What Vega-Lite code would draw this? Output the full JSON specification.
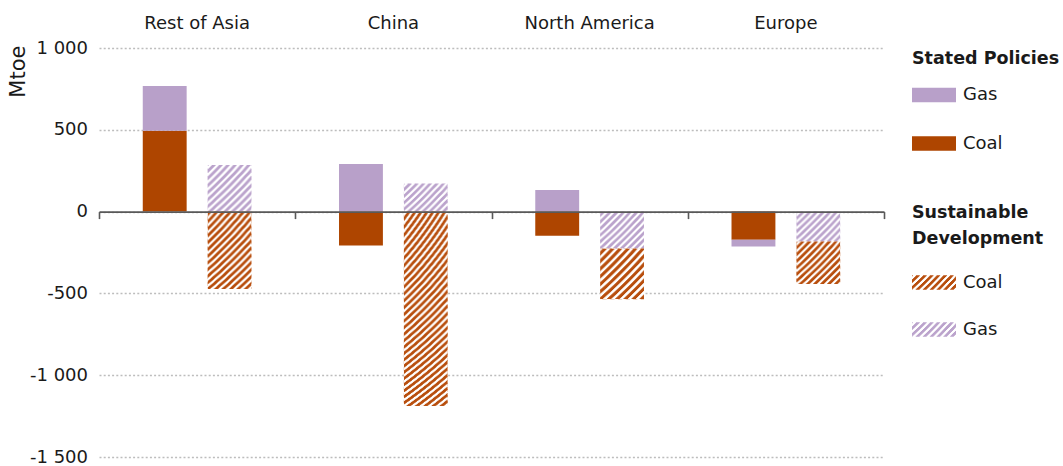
{
  "$schema": "https://vega.github.io/schema/vega-lite/v6.json",
  "width": 785,
  "height": 409,
  "autosize": {"type": "none"},
  "padding": {"left": 99, "top": 48, "right": 179, "bottom": 9},
  "background": "white",
  "data": {
    "values": [
      {"region": "Rest of Asia", "scenario": "SP", "fuel": "Coal", "value": 494},
      {"region": "Rest of Asia", "scenario": "SP", "fuel": "Gas", "value": 274},
      {"region": "Rest of Asia", "scenario": "SD", "fuel": "Gas", "value": 285},
      {"region": "Rest of Asia", "scenario": "SD", "fuel": "Coal", "value": -473},
      {"region": "China", "scenario": "SP", "fuel": "Coal", "value": -207},
      {"region": "China", "scenario": "SP", "fuel": "Gas", "value": 291},
      {"region": "China", "scenario": "SD", "fuel": "Gas", "value": 172},
      {"region": "China", "scenario": "SD", "fuel": "Coal", "value": -1188},
      {"region": "North America", "scenario": "SP", "fuel": "Coal", "value": -148},
      {"region": "North America", "scenario": "SP", "fuel": "Gas", "value": 132},
      {"region": "North America", "scenario": "SD", "fuel": "Gas", "value": -225},
      {"region": "North America", "scenario": "SD", "fuel": "Coal", "value": -310},
      {"region": "Europe", "scenario": "SP", "fuel": "Coal", "value": -172},
      {"region": "Europe", "scenario": "SP", "fuel": "Gas", "value": -41},
      {"region": "Europe", "scenario": "SD", "fuel": "Gas", "value": -182},
      {"region": "Europe", "scenario": "SD", "fuel": "Coal", "value": -261}
    ]
  },
  "layer": [
    {
      "transform": [{"filter": "datum.scenario === 'SP'"}],
      "mark": {"type": "bar"},
      "encoding": {
        "x": {
          "field": "region", "type": "nominal",
          "sort": ["Rest of Asia", "China", "North America", "Europe"],
          "scale": {"paddingInner": 0, "paddingOuter": 0},
          "axis": {
            "orient": "top", "title": null, "labelAngle": 0, "ticks": false, "tickSize": 0,
            "domain": false, "grid": false, "labelPadding": 20, "labelBaseline": "alphabetic",
            "labelFontSize": 18, "labelColor": "#1a1a1a"
          }
        },
        "xOffset": {
          "field": "scenario", "type": "nominal",
          "scale": {"domain": ["SP", "SD"], "paddingInner": 0.323, "paddingOuter": 0.675}
        },
        "y": {
          "field": "value", "type": "quantitative", "stack": "zero",
          "scale": {"domain": [-1500, 1000], "nice": false, "zero": false},
          "axis": {
            "title": "Mtoe", "values": [-1500, -1000, -500, 0, 500, 1000],
            "domain": false, "ticks": false, "tickSize": 0, "labelPadding": 11.5,
            "labelFontSize": 18, "labelColor": "#1a1a1a",
            "labelExpr": "(datum.value < 0 ? '-' : '') + replace(format(abs(datum.value), ','), ',', ' ')",
            "grid": true, "gridColor": "#bdbdbd", "gridDash": [2, 2.2], "gridWidth": 1.5,
            "titleFontSize": 21, "titleFontWeight": "normal", "titleColor": "#1a1a1a",
            "titleAngle": 270, "titleAlign": "right", "titleBaseline": "middle",
            "titleX": -80.5, "titleY": -3
          }
        },
        "fill": {
          "field": "fuel", "type": "nominal",
          "scale": {"domain": ["Gas", "Coal"], "range": ["#b8a0c9", "#ae4500"]},
          "legend": {
            "title": "Stated Policies", "orient": "none", "direction": "vertical",
            "legendX": 813, "legendY": 1.5, "padding": 0,
            "symbolType": "M-1,-0.33H1V0.33H-1Z", "symbolSize": 1936, "symbolStrokeWidth": 0,
            "labelOffset": 7, "rowPadding": 17.5, "titlePadding": 6
          }
        },
        "order": {"field": "fuel", "sort": "ascending"}
      }
    },
    {
      "transform": [{"filter": "datum.scenario === 'SD'"}],
      "mark": {"type": "bar"},
      "encoding": {
        "x": {
          "field": "region", "type": "nominal",
          "sort": ["Rest of Asia", "China", "North America", "Europe"],
          "scale": {"paddingInner": 0, "paddingOuter": 0},
          "axis": {
            "orient": "bottom", "offset": -245.4, "title": null, "labels": false,
            "domain": true, "domainColor": "#595959", "domainWidth": 1.6,
            "ticks": true, "tickBand": "extent", "tickSize": 7, "tickColor": "#595959", "tickWidth": 1.6,
            "grid": false, "zindex": 1
          }
        },
        "xOffset": {
          "field": "scenario", "type": "nominal",
          "scale": {"domain": ["SP", "SD"], "paddingInner": 0.323, "paddingOuter": 0.675}
        },
        "y": {
          "field": "value", "type": "quantitative", "stack": "zero",
          "scale": {"domain": [-1500, 1000], "nice": false, "zero": false}
        },
        "fill": {
          "field": "fuel", "type": "nominal",
          "scale": {"domain": ["Coal", "Gas"], "range": ["#b84e0d", "#bba3cc"]},
          "legend": null,
          "condition": [
            {
              "test": "datum.fuel === 'Coal' && datum.region === 'China'",
              "value": {"gradient": "radial", "x1": -0.969, "y1": -0.969, "r1": 0, "x2": -0.969, "y2": -0.969, "r2": 2.551, "stops": [
                {"offset":0.65,"color":"#b84e0d"},{"offset":0.6545,"color":"#b84e0d"},{"offset":0.6555,"color":"#fff"},{"offset":0.659,"color":"#fff"},
                {"offset":0.66,"color":"#b84e0d"},{"offset":0.6645,"color":"#b84e0d"},{"offset":0.6655,"color":"#fff"},{"offset":0.669,"color":"#fff"},
                {"offset":0.67,"color":"#b84e0d"},{"offset":0.6745,"color":"#b84e0d"},{"offset":0.6755,"color":"#fff"},{"offset":0.679,"color":"#fff"},
                {"offset":0.68,"color":"#b84e0d"},{"offset":0.6845,"color":"#b84e0d"},{"offset":0.6855,"color":"#fff"},{"offset":0.689,"color":"#fff"},
                {"offset":0.69,"color":"#b84e0d"},{"offset":0.6945,"color":"#b84e0d"},{"offset":0.6955,"color":"#fff"},{"offset":0.699,"color":"#fff"},
                {"offset":0.70,"color":"#b84e0d"},{"offset":0.7045,"color":"#b84e0d"},{"offset":0.7055,"color":"#fff"},{"offset":0.709,"color":"#fff"},
                {"offset":0.71,"color":"#b84e0d"},{"offset":0.7145,"color":"#b84e0d"},{"offset":0.7155,"color":"#fff"},{"offset":0.719,"color":"#fff"},
                {"offset":0.72,"color":"#b84e0d"},{"offset":0.7245,"color":"#b84e0d"},{"offset":0.7255,"color":"#fff"},{"offset":0.729,"color":"#fff"},
                {"offset":0.73,"color":"#b84e0d"},{"offset":0.7345,"color":"#b84e0d"},{"offset":0.7355,"color":"#fff"},{"offset":0.739,"color":"#fff"},
                {"offset":0.74,"color":"#b84e0d"},{"offset":0.7445,"color":"#b84e0d"},{"offset":0.7455,"color":"#fff"},{"offset":0.749,"color":"#fff"},
                {"offset":0.75,"color":"#b84e0d"},{"offset":0.7545,"color":"#b84e0d"},{"offset":0.7555,"color":"#fff"},{"offset":0.759,"color":"#fff"},
                {"offset":0.76,"color":"#b84e0d"},{"offset":0.7645,"color":"#b84e0d"},{"offset":0.7655,"color":"#fff"},{"offset":0.769,"color":"#fff"},
                {"offset":0.77,"color":"#b84e0d"},{"offset":0.7745,"color":"#b84e0d"},{"offset":0.7755,"color":"#fff"},{"offset":0.779,"color":"#fff"},
                {"offset":0.78,"color":"#b84e0d"},{"offset":0.7845,"color":"#b84e0d"},{"offset":0.7855,"color":"#fff"},{"offset":0.789,"color":"#fff"},
                {"offset":0.79,"color":"#b84e0d"},{"offset":0.7945,"color":"#b84e0d"},{"offset":0.7955,"color":"#fff"},{"offset":0.799,"color":"#fff"},
                {"offset":0.80,"color":"#b84e0d"},{"offset":0.8045,"color":"#b84e0d"},{"offset":0.8055,"color":"#fff"},{"offset":0.809,"color":"#fff"},
                {"offset":0.81,"color":"#b84e0d"},{"offset":0.8145,"color":"#b84e0d"},{"offset":0.8155,"color":"#fff"},{"offset":0.819,"color":"#fff"},
                {"offset":0.82,"color":"#b84e0d"},{"offset":0.8245,"color":"#b84e0d"},{"offset":0.8255,"color":"#fff"},{"offset":0.829,"color":"#fff"},
                {"offset":0.83,"color":"#b84e0d"},{"offset":0.8345,"color":"#b84e0d"},{"offset":0.8355,"color":"#fff"},{"offset":0.839,"color":"#fff"},
                {"offset":0.84,"color":"#b84e0d"},{"offset":0.8445,"color":"#b84e0d"},{"offset":0.8455,"color":"#fff"},{"offset":0.849,"color":"#fff"},
                {"offset":0.85,"color":"#b84e0d"},{"offset":0.8545,"color":"#b84e0d"},{"offset":0.8555,"color":"#fff"},{"offset":0.859,"color":"#fff"},
                {"offset":0.86,"color":"#b84e0d"},{"offset":0.8645,"color":"#b84e0d"},{"offset":0.8655,"color":"#fff"},{"offset":0.869,"color":"#fff"},
                {"offset":0.87,"color":"#b84e0d"},{"offset":0.8745,"color":"#b84e0d"},{"offset":0.8755,"color":"#fff"},{"offset":0.879,"color":"#fff"},
                {"offset":0.88,"color":"#b84e0d"},{"offset":0.8845,"color":"#b84e0d"},{"offset":0.8855,"color":"#fff"},{"offset":0.889,"color":"#fff"},
                {"offset":0.89,"color":"#b84e0d"},{"offset":0.8945,"color":"#b84e0d"},{"offset":0.8955,"color":"#fff"},{"offset":0.899,"color":"#fff"},
                {"offset":0.90,"color":"#b84e0d"},{"offset":0.9045,"color":"#b84e0d"},{"offset":0.9055,"color":"#fff"},{"offset":0.909,"color":"#fff"},
                {"offset":0.91,"color":"#b84e0d"},{"offset":0.9145,"color":"#b84e0d"},{"offset":0.9155,"color":"#fff"},{"offset":0.919,"color":"#fff"},
                {"offset":0.92,"color":"#b84e0d"},{"offset":0.9245,"color":"#b84e0d"},{"offset":0.9255,"color":"#fff"},{"offset":0.929,"color":"#fff"},
                {"offset":0.93,"color":"#b84e0d"},{"offset":0.9345,"color":"#b84e0d"},{"offset":0.9355,"color":"#fff"},{"offset":0.939,"color":"#fff"},
                {"offset":0.94,"color":"#b84e0d"},{"offset":0.9445,"color":"#b84e0d"},{"offset":0.9455,"color":"#fff"},{"offset":0.949,"color":"#fff"},
                {"offset":0.95,"color":"#b84e0d"},{"offset":0.9545,"color":"#b84e0d"},{"offset":0.9555,"color":"#fff"},{"offset":0.959,"color":"#fff"},
                {"offset":0.96,"color":"#b84e0d"},{"offset":0.9645,"color":"#b84e0d"},{"offset":0.9655,"color":"#fff"},{"offset":0.969,"color":"#fff"},
                {"offset":0.97,"color":"#b84e0d"},{"offset":0.9745,"color":"#b84e0d"},{"offset":0.9755,"color":"#fff"},{"offset":0.979,"color":"#fff"},
                {"offset":0.98,"color":"#b84e0d"},{"offset":0.9845,"color":"#b84e0d"},{"offset":0.9855,"color":"#fff"},{"offset":0.989,"color":"#fff"},
                {"offset":0.99,"color":"#b84e0d"},{"offset":0.9945,"color":"#b84e0d"},{"offset":0.9955,"color":"#fff"},{"offset":0.999,"color":"#fff"},
                {"offset":1,"color":"#b84e0d"}
              ]}
            },
            {
              "test": "datum.fuel === 'Coal' && datum.region === 'Rest of Asia'",
              "value": {"gradient": "radial", "x1": -3.61, "y1": -3.61, "r1": 0, "x2": -3.61, "y2": -3.61, "r2": 6.43, "stops": [
                {"offset":0.81,"color":"#b84e0d"},{"offset":0.8145,"color":"#b84e0d"},{"offset":0.8155,"color":"#fff"},{"offset":0.819,"color":"#fff"},
                {"offset":0.82,"color":"#b84e0d"},{"offset":0.8245,"color":"#b84e0d"},{"offset":0.8255,"color":"#fff"},{"offset":0.829,"color":"#fff"},
                {"offset":0.83,"color":"#b84e0d"},{"offset":0.8345,"color":"#b84e0d"},{"offset":0.8355,"color":"#fff"},{"offset":0.839,"color":"#fff"},
                {"offset":0.84,"color":"#b84e0d"},{"offset":0.8445,"color":"#b84e0d"},{"offset":0.8455,"color":"#fff"},{"offset":0.849,"color":"#fff"},
                {"offset":0.85,"color":"#b84e0d"},{"offset":0.8545,"color":"#b84e0d"},{"offset":0.8555,"color":"#fff"},{"offset":0.859,"color":"#fff"},
                {"offset":0.86,"color":"#b84e0d"},{"offset":0.8645,"color":"#b84e0d"},{"offset":0.8655,"color":"#fff"},{"offset":0.869,"color":"#fff"},
                {"offset":0.87,"color":"#b84e0d"},{"offset":0.8745,"color":"#b84e0d"},{"offset":0.8755,"color":"#fff"},{"offset":0.879,"color":"#fff"},
                {"offset":0.88,"color":"#b84e0d"},{"offset":0.8845,"color":"#b84e0d"},{"offset":0.8855,"color":"#fff"},{"offset":0.889,"color":"#fff"},
                {"offset":0.89,"color":"#b84e0d"},{"offset":0.8945,"color":"#b84e0d"},{"offset":0.8955,"color":"#fff"},{"offset":0.899,"color":"#fff"},
                {"offset":0.90,"color":"#b84e0d"},{"offset":0.9045,"color":"#b84e0d"},{"offset":0.9055,"color":"#fff"},{"offset":0.909,"color":"#fff"},
                {"offset":0.91,"color":"#b84e0d"},{"offset":0.9145,"color":"#b84e0d"},{"offset":0.9155,"color":"#fff"},{"offset":0.919,"color":"#fff"},
                {"offset":0.92,"color":"#b84e0d"},{"offset":0.9245,"color":"#b84e0d"},{"offset":0.9255,"color":"#fff"},{"offset":0.929,"color":"#fff"},
                {"offset":0.93,"color":"#b84e0d"},{"offset":0.9345,"color":"#b84e0d"},{"offset":0.9355,"color":"#fff"},{"offset":0.939,"color":"#fff"},
                {"offset":0.94,"color":"#b84e0d"},{"offset":0.9445,"color":"#b84e0d"},{"offset":0.9455,"color":"#fff"},{"offset":0.949,"color":"#fff"},
                {"offset":0.95,"color":"#b84e0d"},{"offset":0.9545,"color":"#b84e0d"},{"offset":0.9555,"color":"#fff"},{"offset":0.959,"color":"#fff"},
                {"offset":0.96,"color":"#b84e0d"},{"offset":0.9645,"color":"#b84e0d"},{"offset":0.9655,"color":"#fff"},{"offset":0.969,"color":"#fff"},
                {"offset":0.97,"color":"#b84e0d"},{"offset":0.9745,"color":"#b84e0d"},{"offset":0.9755,"color":"#fff"},{"offset":0.979,"color":"#fff"},
                {"offset":0.98,"color":"#b84e0d"},{"offset":0.9845,"color":"#b84e0d"},{"offset":0.9855,"color":"#fff"},{"offset":0.989,"color":"#fff"},
                {"offset":0.99,"color":"#b84e0d"},{"offset":0.9945,"color":"#b84e0d"},{"offset":0.9955,"color":"#fff"},{"offset":0.999,"color":"#fff"},
                {"offset":1,"color":"#b84e0d"}
              ]}
            },
            {
              "test": "datum.fuel === 'Coal'",
              "value": {"gradient": "radial", "x1": -6.7, "y1": -6.7, "r1": 0, "x2": -6.7, "y2": -6.7, "r2": 11, "stops": [
                {"offset":0.86,"color":"#b84e0d"},{"offset":0.8645,"color":"#b84e0d"},{"offset":0.8655,"color":"#fff"},{"offset":0.869,"color":"#fff"},
                {"offset":0.87,"color":"#b84e0d"},{"offset":0.8745,"color":"#b84e0d"},{"offset":0.8755,"color":"#fff"},{"offset":0.879,"color":"#fff"},
                {"offset":0.88,"color":"#b84e0d"},{"offset":0.8845,"color":"#b84e0d"},{"offset":0.8855,"color":"#fff"},{"offset":0.889,"color":"#fff"},
                {"offset":0.89,"color":"#b84e0d"},{"offset":0.8945,"color":"#b84e0d"},{"offset":0.8955,"color":"#fff"},{"offset":0.899,"color":"#fff"},
                {"offset":0.90,"color":"#b84e0d"},{"offset":0.9045,"color":"#b84e0d"},{"offset":0.9055,"color":"#fff"},{"offset":0.909,"color":"#fff"},
                {"offset":0.91,"color":"#b84e0d"},{"offset":0.9145,"color":"#b84e0d"},{"offset":0.9155,"color":"#fff"},{"offset":0.919,"color":"#fff"},
                {"offset":0.92,"color":"#b84e0d"},{"offset":0.9245,"color":"#b84e0d"},{"offset":0.9255,"color":"#fff"},{"offset":0.929,"color":"#fff"},
                {"offset":0.93,"color":"#b84e0d"},{"offset":0.9345,"color":"#b84e0d"},{"offset":0.9355,"color":"#fff"},{"offset":0.939,"color":"#fff"},
                {"offset":0.94,"color":"#b84e0d"},{"offset":0.9445,"color":"#b84e0d"},{"offset":0.9455,"color":"#fff"},{"offset":0.949,"color":"#fff"},
                {"offset":0.95,"color":"#b84e0d"},{"offset":0.9545,"color":"#b84e0d"},{"offset":0.9555,"color":"#fff"},{"offset":0.959,"color":"#fff"},
                {"offset":0.96,"color":"#b84e0d"},{"offset":0.9645,"color":"#b84e0d"},{"offset":0.9655,"color":"#fff"},{"offset":0.969,"color":"#fff"},
                {"offset":0.97,"color":"#b84e0d"},{"offset":0.9745,"color":"#b84e0d"},{"offset":0.9755,"color":"#fff"},{"offset":0.979,"color":"#fff"},
                {"offset":0.98,"color":"#b84e0d"},{"offset":0.9845,"color":"#b84e0d"},{"offset":0.9855,"color":"#fff"},{"offset":0.989,"color":"#fff"},
                {"offset":0.99,"color":"#b84e0d"},{"offset":0.9945,"color":"#b84e0d"},{"offset":0.9955,"color":"#fff"},{"offset":0.999,"color":"#fff"},
                {"offset":1,"color":"#b84e0d"}
              ]}
            },
            {
              "test": "datum.fuel === 'Gas'",
              "value": {"gradient": "radial", "x1": -6.7, "y1": -6.7, "r1": 0, "x2": -6.7, "y2": -6.7, "r2": 11, "stops": [
                {"offset":0.86,"color":"#bba3cc"},{"offset":0.8645,"color":"#bba3cc"},{"offset":0.8655,"color":"#fff"},{"offset":0.869,"color":"#fff"},
                {"offset":0.87,"color":"#bba3cc"},{"offset":0.8745,"color":"#bba3cc"},{"offset":0.8755,"color":"#fff"},{"offset":0.879,"color":"#fff"},
                {"offset":0.88,"color":"#bba3cc"},{"offset":0.8845,"color":"#bba3cc"},{"offset":0.8855,"color":"#fff"},{"offset":0.889,"color":"#fff"},
                {"offset":0.89,"color":"#bba3cc"},{"offset":0.8945,"color":"#bba3cc"},{"offset":0.8955,"color":"#fff"},{"offset":0.899,"color":"#fff"},
                {"offset":0.90,"color":"#bba3cc"},{"offset":0.9045,"color":"#bba3cc"},{"offset":0.9055,"color":"#fff"},{"offset":0.909,"color":"#fff"},
                {"offset":0.91,"color":"#bba3cc"},{"offset":0.9145,"color":"#bba3cc"},{"offset":0.9155,"color":"#fff"},{"offset":0.919,"color":"#fff"},
                {"offset":0.92,"color":"#bba3cc"},{"offset":0.9245,"color":"#bba3cc"},{"offset":0.9255,"color":"#fff"},{"offset":0.929,"color":"#fff"},
                {"offset":0.93,"color":"#bba3cc"},{"offset":0.9345,"color":"#bba3cc"},{"offset":0.9355,"color":"#fff"},{"offset":0.939,"color":"#fff"},
                {"offset":0.94,"color":"#bba3cc"},{"offset":0.9445,"color":"#bba3cc"},{"offset":0.9455,"color":"#fff"},{"offset":0.949,"color":"#fff"},
                {"offset":0.95,"color":"#bba3cc"},{"offset":0.9545,"color":"#bba3cc"},{"offset":0.9555,"color":"#fff"},{"offset":0.959,"color":"#fff"},
                {"offset":0.96,"color":"#bba3cc"},{"offset":0.9645,"color":"#bba3cc"},{"offset":0.9655,"color":"#fff"},{"offset":0.969,"color":"#fff"},
                {"offset":0.97,"color":"#bba3cc"},{"offset":0.9745,"color":"#bba3cc"},{"offset":0.9755,"color":"#fff"},{"offset":0.979,"color":"#fff"},
                {"offset":0.98,"color":"#bba3cc"},{"offset":0.9845,"color":"#bba3cc"},{"offset":0.9855,"color":"#fff"},{"offset":0.989,"color":"#fff"},
                {"offset":0.99,"color":"#bba3cc"},{"offset":0.9945,"color":"#bba3cc"},{"offset":0.9955,"color":"#fff"},{"offset":0.999,"color":"#fff"},
                {"offset":1,"color":"#bba3cc"}
              ]}
            }
          ]
        },
        "order": {"field": "fuel", "sort": "descending"}
      }
    },
    {
      "transform": [{"filter": "datum.scenario === 'SD' && datum.fuel === 'Coal' && datum.region === 'Europe'"}],
      "mark": {
        "type": "bar",
        "fill": {"gradient": "radial", "x1": -6.7, "y1": -6.7, "r1": 0, "x2": -6.7, "y2": -6.7, "r2": 11, "stops": [
          {"offset":0.86,"color":"#b84e0d"},{"offset":0.8645,"color":"#b84e0d"},{"offset":0.8655,"color":"#fff"},{"offset":0.869,"color":"#fff"},
          {"offset":0.87,"color":"#b84e0d"},{"offset":0.8745,"color":"#b84e0d"},{"offset":0.8755,"color":"#fff"},{"offset":0.879,"color":"#fff"},
          {"offset":0.88,"color":"#b84e0d"},{"offset":0.8845,"color":"#b84e0d"},{"offset":0.8855,"color":"#fff"},{"offset":0.889,"color":"#fff"},
          {"offset":0.89,"color":"#b84e0d"},{"offset":0.8945,"color":"#b84e0d"},{"offset":0.8955,"color":"#fff"},{"offset":0.899,"color":"#fff"},
          {"offset":0.90,"color":"#b84e0d"},{"offset":0.9045,"color":"#b84e0d"},{"offset":0.9055,"color":"#fff"},{"offset":0.909,"color":"#fff"},
          {"offset":0.91,"color":"#b84e0d"},{"offset":0.9145,"color":"#b84e0d"},{"offset":0.9155,"color":"#fff"},{"offset":0.919,"color":"#fff"},
          {"offset":0.92,"color":"#b84e0d"},{"offset":0.9245,"color":"#b84e0d"},{"offset":0.9255,"color":"#fff"},{"offset":0.929,"color":"#fff"},
          {"offset":0.93,"color":"#b84e0d"},{"offset":0.9345,"color":"#b84e0d"},{"offset":0.9355,"color":"#fff"},{"offset":0.939,"color":"#fff"},
          {"offset":0.94,"color":"#b84e0d"},{"offset":0.9445,"color":"#b84e0d"},{"offset":0.9455,"color":"#fff"},{"offset":0.949,"color":"#fff"},
          {"offset":0.95,"color":"#b84e0d"},{"offset":0.9545,"color":"#b84e0d"},{"offset":0.9555,"color":"#fff"},{"offset":0.959,"color":"#fff"},
          {"offset":0.96,"color":"#b84e0d"},{"offset":0.9645,"color":"#b84e0d"},{"offset":0.9655,"color":"#fff"},{"offset":0.969,"color":"#fff"},
          {"offset":0.97,"color":"#b84e0d"},{"offset":0.9745,"color":"#b84e0d"},{"offset":0.9755,"color":"#fff"},{"offset":0.979,"color":"#fff"},
          {"offset":0.98,"color":"#b84e0d"},{"offset":0.9845,"color":"#b84e0d"},{"offset":0.9855,"color":"#fff"},{"offset":0.989,"color":"#fff"},
          {"offset":0.99,"color":"#b84e0d"},{"offset":0.9945,"color":"#b84e0d"},{"offset":0.9955,"color":"#fff"},{"offset":0.999,"color":"#fff"},
          {"offset":1,"color":"#b84e0d"}
        ]}
      },
      "encoding": {
        "x": {"field": "region", "type": "nominal", "sort": ["Rest of Asia", "China", "North America", "Europe"], "axis": null},
        "xOffset": {"field": "scenario", "type": "nominal", "scale": {"domain": ["SP", "SD"], "paddingInner": 0.323, "paddingOuter": 0.675}},
        "y": {"datum": 0, "type": "quantitative"},
        "y2": {"datum": 0},
        "opacity": {
          "field": "fuel", "type": "nominal",
          "scale": {"domain": ["Coal"], "range": [1]},
          "legend": {
            "title": ["Sustainable", "Development"], "orient": "none", "direction": "vertical",
            "legendX": 813, "legendY": 155.5, "padding": 0,
            "symbolType": "M-1,-0.33H1V0.33H-1Z", "symbolSize": 1936, "symbolStrokeWidth": 0,
            "labelOffset": 7, "titlePadding": 13.5, "titleLineHeight": 26
          }
        }
      }
    },
    {
      "transform": [{"filter": "datum.scenario === 'SD' && datum.fuel === 'Gas' && datum.region === 'Europe'"}],
      "mark": {
        "type": "bar",
        "fill": {"gradient": "radial", "x1": -6.7, "y1": -6.7, "r1": 0, "x2": -6.7, "y2": -6.7, "r2": 11, "stops": [
          {"offset":0.86,"color":"#bba3cc"},{"offset":0.8645,"color":"#bba3cc"},{"offset":0.8655,"color":"#fff"},{"offset":0.869,"color":"#fff"},
          {"offset":0.87,"color":"#bba3cc"},{"offset":0.8745,"color":"#bba3cc"},{"offset":0.8755,"color":"#fff"},{"offset":0.879,"color":"#fff"},
          {"offset":0.88,"color":"#bba3cc"},{"offset":0.8845,"color":"#bba3cc"},{"offset":0.8855,"color":"#fff"},{"offset":0.889,"color":"#fff"},
          {"offset":0.89,"color":"#bba3cc"},{"offset":0.8945,"color":"#bba3cc"},{"offset":0.8955,"color":"#fff"},{"offset":0.899,"color":"#fff"},
          {"offset":0.90,"color":"#bba3cc"},{"offset":0.9045,"color":"#bba3cc"},{"offset":0.9055,"color":"#fff"},{"offset":0.909,"color":"#fff"},
          {"offset":0.91,"color":"#bba3cc"},{"offset":0.9145,"color":"#bba3cc"},{"offset":0.9155,"color":"#fff"},{"offset":0.919,"color":"#fff"},
          {"offset":0.92,"color":"#bba3cc"},{"offset":0.9245,"color":"#bba3cc"},{"offset":0.9255,"color":"#fff"},{"offset":0.929,"color":"#fff"},
          {"offset":0.93,"color":"#bba3cc"},{"offset":0.9345,"color":"#bba3cc"},{"offset":0.9355,"color":"#fff"},{"offset":0.939,"color":"#fff"},
          {"offset":0.94,"color":"#bba3cc"},{"offset":0.9445,"color":"#bba3cc"},{"offset":0.9455,"color":"#fff"},{"offset":0.949,"color":"#fff"},
          {"offset":0.95,"color":"#bba3cc"},{"offset":0.9545,"color":"#bba3cc"},{"offset":0.9555,"color":"#fff"},{"offset":0.959,"color":"#fff"},
          {"offset":0.96,"color":"#bba3cc"},{"offset":0.9645,"color":"#bba3cc"},{"offset":0.9655,"color":"#fff"},{"offset":0.969,"color":"#fff"},
          {"offset":0.97,"color":"#bba3cc"},{"offset":0.9745,"color":"#bba3cc"},{"offset":0.9755,"color":"#fff"},{"offset":0.979,"color":"#fff"},
          {"offset":0.98,"color":"#bba3cc"},{"offset":0.9845,"color":"#bba3cc"},{"offset":0.9855,"color":"#fff"},{"offset":0.989,"color":"#fff"},
          {"offset":0.99,"color":"#bba3cc"},{"offset":0.9945,"color":"#bba3cc"},{"offset":0.9955,"color":"#fff"},{"offset":0.999,"color":"#fff"},
          {"offset":1,"color":"#bba3cc"}
        ]}
      },
      "encoding": {
        "x": {"field": "region", "type": "nominal", "sort": ["Rest of Asia", "China", "North America", "Europe"], "axis": null},
        "xOffset": {"field": "scenario", "type": "nominal", "scale": {"domain": ["SP", "SD"], "paddingInner": 0.323, "paddingOuter": 0.675}},
        "y": {"datum": 0, "type": "quantitative"},
        "y2": {"datum": 0},
        "opacity": {
          "field": "fuel", "type": "nominal",
          "scale": {"domain": ["Gas"], "range": [1]},
          "legend": {
            "title": null, "orient": "none", "direction": "vertical",
            "legendX": 813, "legendY": 259.5, "padding": 0,
            "symbolType": "M-1,-0.33H1V0.33H-1Z", "symbolSize": 1936, "symbolStrokeWidth": 0,
            "labelOffset": 7
          }
        }
      }
    }
  ],
  "resolve": {"scale": {"fill": "independent", "opacity": "independent"}, "axis": {"x": "independent"}},
  "config": {
    "font": "DejaVu Sans",
    "view": {"stroke": null},
    "axis": {"labelFont": "DejaVu Sans", "titleFont": "DejaVu Sans"},
    "legend": {
      "labelFont": "DejaVu Sans", "labelFontSize": 18, "labelColor": "#1a1a1a",
      "titleFont": "DejaVu Sans", "titleFontSize": 17.5, "titleFontWeight": "bold", "titleColor": "#1a1a1a",
      "titleLimit": 200, "labelLimit": 120
    }
  }
}
